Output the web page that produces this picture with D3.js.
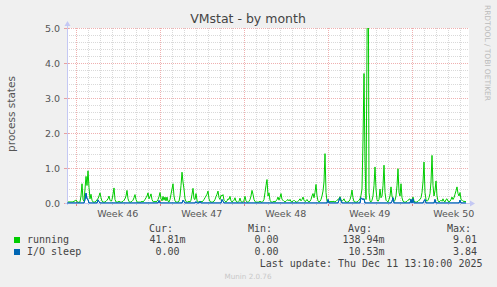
<!DOCTYPE html>
<html><head><meta charset="utf-8">
<script src="https://cdn.jsdelivr.net/npm/d3@7"></script>
<style>body{margin:0;background:#f0f0f0}svg{display:block}</style>
</head><body>
<svg id="c" width="497" height="287"></svg>
<script>
// ---- data (2-hour samples, one row = one day) ----
const startTime = Date.UTC(2025, 10, 9, 6, 36);
const stepHours = 2;
const running = [
.03,.03,.03,.03,.03,.03,.03,.05,.06,.09,.04,.02,
.02,.03,.2,.55,.1,.05,.4,.76,.5,.92,.45,.12,
.25,.08,.03,.02,.03,.05,.1,.12,.2,.29,.15,.05,
.03,.02,.03,.05,.08,.12,.2,.08,.05,.1,.25,.43,
.1,.03,.02,.03,.05,.03,.02,.03,.05,.08,.12,.2,
.36,.12,.04,.02,.03,.05,.08,.15,.24,.1,.03,.02,
.03,.02,.03,.05,.03,.06,.1,.15,.2,.29,.12,.18,
.26,.1,.04,.03,.05,.03,.05,.1,.18,.3,.12,.06,
.19,.08,.17,.06,.17,.05,.03,.1,.25,.4,.55,.2,
.06,.03,.02,.03,.05,.2,.5,.88,.6,.4,.12,.04,
.02,.03,.05,.03,.08,.25,.42,.12,.1,.27,.08,.03,
.02,.03,.05,.03,.06,.1,.15,.2,.25,.34,.12,.04,
.03,.02,.03,.05,.1,.18,.25,.34,.15,.1,.22,.2,
.24,.08,.05,.03,.06,.12,.1,.19,.06,.03,.05,.08,
.15,.05,.03,.02,.05,.14,.04,.02,.03,.08,.19,.06,
.03,.02,.05,.1,.2,.36,.25,.1,.04,.02,.03,.02,
.03,.05,.03,.02,.05,.1,.3,.5,.67,.2,.29,.08,
.03,.02,.03,.05,.03,.06,.1,.17,.08,.16,.27,.1,
.08,.05,.03,.05,.08,.1,.06,.1,.04,.03,.05,.08,
.05,.03,.02,.05,.08,.12,.06,.1,.17,.08,.04,.06,
.1,.05,.03,.05,.1,.2,.27,.15,.3,.53,.2,.06,
.03,.05,.1,.2,.34,.6,1.41,.3,.05,.08,.04,.03,
.05,.03,.05,.04,.03,.05,.08,.1,.12,.18,.1,.05,
.08,.12,.05,.03,.02,.03,.05,.1,.2,.37,.15,.04,
.03,.02,.03,.05,.08,.12,.22,.4,1.8,3.7,1.2,.1,
4.5,9.01,.3,.05,.03,.08,.2,.5,1.03,.4,.1,.05,
.1,.4,.15,.2,.5,1.08,.3,.08,.05,.03,.1,.2,
.46,.2,.1,.05,.08,.2,.5,.98,.3,.2,.55,.15,
.05,.03,.02,.03,.05,.08,.1,.12,.05,.1,.17,.06,
.03,.02,.03,.05,.08,.1,.15,.3,.6,1.17,.3,.1,
.05,.08,.15,.27,.6,1.36,.5,.2,.35,.63,.2,.06,
.03,.05,.08,.05,.12,.05,.03,.1,.12,.05,.03,.05,
.1,.17,.1,.15,.25,.35,.46,.27,.2,.3,.1,.08,
.05,.05,.04,.04
];
const ioSleep = [
0,0,0,0,0,0,0,0,0,0,0,0,
0,0,0,0,0,0,.1,.28,.12,.1,0,0,
0,0,0,0,0,0,0,.09,.04,0,0,0,
0,0,0,0,0,0,0,0,0,0,0,0,
0,0,0,0,0,0,0,0,0,0,0,0,
0,0,0,0,0,0,0,0,0,0,0,0,
0,0,0,0,0,0,0,0,0,0,0,0,
0,0,0,0,0,0,0,0,.07,0,0,0,
0,0,0,0,0,0,0,0,0,0,0,0,
0,0,0,0,0,0,0,0,.08,.04,0,0,
0,0,0,0,0,0,0,0,0,.04,0,0,
0,.05,0,0,0,0,0,0,0,0,0,0,
0,0,0,0,0,0,0,0,0,0,0,.1,
.05,0,0,0,0,0,0,0,0,0,0,0,
0,0,0,0,0,0,0,0,0,0,0,0,
0,0,0,0,0,0,0,0,0,0,0,0,
0,0,0,0,0,0,0,0,0,0,0,0,
0,0,0,0,0,0,0,0,0,0,0,0,
0,0,0,0,0,0,0,0,0,0,0,0,
0,0,0,0,0,0,0,0,0,0,0,0,
0,0,0,0,0,0,0,0,0,0,0,0,
0,0,0,0,0,0,0,0,0,.1,0,0,
0,0,0,0,0,0,0,0,.08,.15,.06,0,
0,0,0,0,0,0,0,0,0,0,0,0,
0,0,0,0,0,0,.15,.12,.1,.12,0,0,
0,0,0,0,0,0,0,0,0,0,0,0,
0,0,0,0,0,0,0,0,0,0,0,0,
0,.05,.15,0,0,0,0,0,0,0,0,0,
0,0,0,0,0,0,0,0,.1,0,.12,0,
0,0,0,0,0,0,0,0,0,.06,.1,0,
0,0,0,0,0,0,0,0,.1,0,0,0,
0,0,0,0,0,0,0,0,0,0,0,0,
0,0,0,0,0,0,0,0,0,.08,0,0,
0,0,0,0
];
const yTickValues = [0, 1, 2, 3, 4, 5];
const weekLabels = ["Week 46", "Week 47", "Week 48", "Week 49", "Week 50"];
const seriesNames = ["running", "I/O sleep"];
const seriesColors = ["#00cc00", "#0066b3"];
const curValues = ["41.81m", "0.00"];
const minValues = ["0.00", "0.00"];
const avgValues = ["138.94m", "10.53m"];
const maxValues = ["9.01", "3.84"];
const lastUpdate = "Last update: Thu Dec 11 13:10:00 2025";

// ---- drawing ----
const svg = d3.select("#c");
const L = 67, R = 469, T = 28, B = 203;
const step = stepHours * 3600 * 1000;
const endTime = startTime + 201 * step * 2;
const x = d3.scaleUtc().domain([startTime, endTime]).range([L, R]);
const y = d3.scaleLinear().domain([0, 5]).range([B, T]);

svg.append("rect").attr("width", 497).attr("height", 287).attr("fill", "#f0f0f0");
svg.append("rect").attr("x", L).attr("y", T).attr("width", R - L).attr("height", B - T).attr("fill", "#ffffff");

const minorColor = "#d9d9d9", majorColor = "#efb0b0";
const g = svg.append("g").attr("shape-rendering", "crispEdges");
// minor horizontal grid
y.ticks(25).filter(v => Math.abs(v - Math.round(v)) > 1e-6).forEach(v => {
  const yy = Math.round(y(v)) + 0.5;
  g.append("line").attr("x1", L).attr("x2", R).attr("y1", yy).attr("y2", yy)
    .attr("stroke", minorColor).attr("stroke-dasharray", "1,1");
});
// minor vertical grid (days)
const mondays = d3.utcMonday.range(startTime, endTime);
d3.utcDay.range(startTime, endTime).forEach(d => {
  if (d.getUTCDay() === 1) return;
  const xx = Math.round(x(d)) + 0.5;
  g.append("line").attr("x1", xx).attr("x2", xx).attr("y1", T).attr("y2", B)
    .attr("stroke", minorColor).attr("stroke-dasharray", "1,1");
  g.append("line").attr("x1", xx).attr("x2", xx).attr("y1", B - 1).attr("y2", B + 2).attr("stroke", "#c8c8c8");
});
// major grid
yTickValues.filter(v => v > 0).forEach(v => {
  const yy = Math.round(y(v)) + 0.5;
  g.append("line").attr("x1", L).attr("x2", R).attr("y1", yy).attr("y2", yy)
    .attr("stroke", majorColor).attr("stroke-dasharray", "1,1");
});
mondays.forEach(d => {
  const xx = Math.round(x(d)) + 0.5;
  g.append("line").attr("x1", xx).attr("x2", xx).attr("y1", T).attr("y2", B)
    .attr("stroke", majorColor).attr("stroke-dasharray", "1,1");
  g.append("line").attr("x1", xx).attr("x2", xx).attr("y1", B - 2).attr("y2", B + 3).attr("stroke", "#e08080");
});
yTickValues.forEach(v => {
  const yy = Math.round(y(v)) + 0.5;
  g.append("line").attr("x1", L - 3).attr("x2", L + 2).attr("y1", yy).attr("y2", yy).attr("stroke", "#e8a0a0");
});

// series
svg.append("clipPath").attr("id", "clip").append("rect")
  .attr("x", L).attr("y", T).attr("width", R - L + 1).attr("height", B - T + 1);
const line = d3.line().x((d, i) => x(startTime + i * step)).y(d => y(d));
[running, ioSleep].forEach((s, k) => {
  svg.append("path").attr("clip-path", "url(#clip)").attr("d", line(s))
    .attr("fill", "none").attr("stroke", seriesColors[k]).attr("stroke-width", 1);
});

// axes lines and arrows
const axisColor = "#c4c8f4";
svg.append("line").attr("x1", L + 0.5).attr("x2", L + 0.5).attr("y1", B + 2).attr("y2", 25)
  .attr("stroke", axisColor).attr("shape-rendering", "crispEdges");
svg.append("path").attr("d", `M${L - 2.5},26 L${L + 3.5},26 L${L + 0.5},21 Z`).attr("fill", axisColor);
svg.append("line").attr("x1", L - 2).attr("x2", R + 2).attr("y1", B + 0.5).attr("y2", B + 0.5)
  .attr("stroke", axisColor).attr("shape-rendering", "crispEdges");
svg.append("path").attr("d", `M${R + 1},${B - 2.5} L${R + 1},${B + 3.5} L${R + 6},${B + 0.5} Z`).attr("fill", axisColor);

// redraw blue baseline over axis
svg.append("path").attr("clip-path", "url(#clip)").attr("d", line(ioSleep))
  .attr("fill", "none").attr("stroke", seriesColors[1]).attr("stroke-width", 1);

// y tick labels
const sans = "'DejaVu Sans', sans-serif";
const mono = "'DejaVu Sans Mono', monospace";
yTickValues.forEach(v => {
  svg.append("text").attr("x", 60).attr("y", y(v) + 3.5).attr("text-anchor", "end")
    .attr("font-family", sans).attr("font-size", 9.5).attr("fill", "#555").text(d3.format(".1f")(v));
});
// week labels centred mid-week
mondays.forEach((d, i) => {
  const mid = +d + 3.5 * 86400000;
  svg.append("text").attr("x", x(mid)).attr("y", 216.5).attr("text-anchor", "middle")
    .attr("font-family", sans).attr("font-size", 9.5).attr("fill", "#555").text(weekLabels[i]);
});

// title
svg.append("text").attr("x", 248).attr("y", 22.5).attr("text-anchor", "middle")
  .attr("font-family", sans).attr("font-size", 12.5).attr("fill", "#444").text("VMstat - by month");
// y label
svg.append("text").attr("transform", "translate(15,114) rotate(-90)").attr("text-anchor", "middle")
  .attr("font-family", sans).attr("font-size", 10.5).attr("fill", "#555").text("process states");
// rrdtool watermark
svg.append("text").attr("transform", "translate(485,5) rotate(90)").attr("text-anchor", "start")
  .attr("font-family", sans).attr("font-size", 7.5).attr("fill", "#bbb")
  .attr("textLength", 96).attr("lengthAdjust", "spacing").text("RRDTOOL / TOBI OETIKER");

// legend
const lg = svg.append("g").attr("font-family", mono).attr("font-size", 10).attr("fill", "#444");
[["Cur:", 149], ["Min:", 248], ["Avg:", 348], ["Max:", 447]].forEach(([t, xx]) => {
  lg.append("text").attr("x", xx).attr("y", 231.5).text(t);
});
const colRight = [179.5, 278.5, 378.5, 477];
seriesNames.forEach((n, k) => {
  const by = 243 + k * 12;
  svg.append("rect").attr("x", 14).attr("y", by - 6).attr("width", 6).attr("height", 6).attr("fill", seriesColors[k]);
  lg.append("text").attr("x", 27).attr("y", by).text(n);
  [curValues[k], minValues[k], avgValues[k], maxValues[k]].forEach((v, c) => {
    const hasSuffix = /[a-zA-Z]$/.test(v);
    const num = hasSuffix ? v.length - 1 : v.length;
    lg.append("text").attr("x", colRight[c] - num * 6.02).attr("y", by).text(v);
  });
});
lg.append("text").attr("x", 482.5).attr("y", 266.5).attr("text-anchor", "end").text(lastUpdate);
svg.append("text").attr("x", 248).attr("y", 279).attr("text-anchor", "middle")
  .attr("font-family", sans).attr("font-size", 7.2).attr("fill", "#c8c8c8").text("Munin 2.0.76");
</script>
</body></html>
